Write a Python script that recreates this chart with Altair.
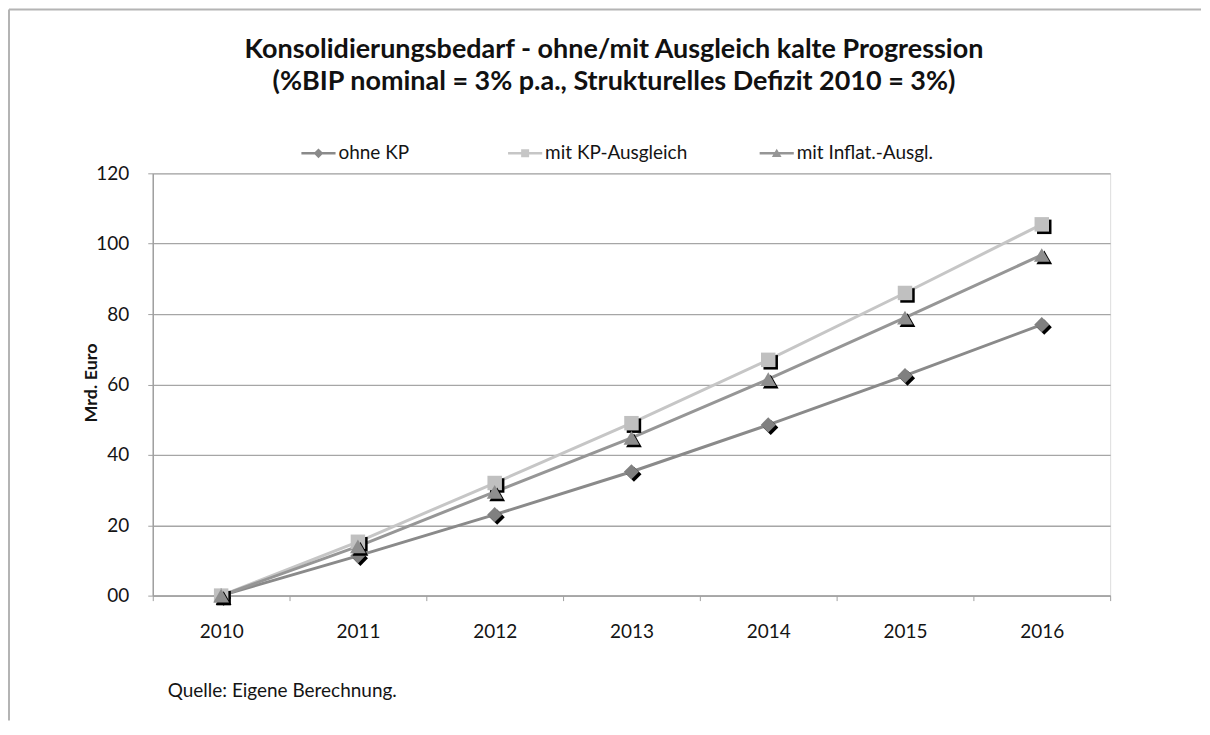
import altair as alt
import pandas as pd

years = ["2010", "2011", "2012", "2013", "2014", "2015", "2016"]
series_names = ["ohne KP", "mit KP-Ausgleich", "mit Inflat.-Ausgl."]
ohne_kp = [0, 11.3, 23.0, 35.2, 48.5, 62.5, 77.0]
mit_kp = [0, 15.3, 32.0, 49.0, 67.0, 86.0, 105.5]
mit_inflat = [0, 14.0, 29.5, 44.8, 61.5, 79.0, 96.8]
y_ticks = [0, 20, 40, 60, 80, 100, 120]

title_lines = ["Konsolidierungsbedarf - ohne/mit Ausgleich kalte Progression",
               "(%BIP nominal  = 3% p.a., Strukturelles Defizit 2010 = 3%)"]
source_text = "Quelle: Eigene Berechnung."

rows = []
for name, vals in zip(series_names, [ohne_kp, mit_kp, mit_inflat]):
    for yr, v in zip(years, vals):
        rows.append({"Jahr": yr, "Wert": v, "Serie": name})
df = pd.DataFrame(rows)

W, H = 959, 423
FONT = "Lato"
TXT = "#141414"
line_colors = ["#8a8a8a", "#c6c6c6", "#969696"]
marker_colors = ["#808080", "#c0c0c0", "#8e8e8e"]
shapes = ["diamond", "square", "triangle-up"]
sizes = [230, 210, 250]
legend_paths = [
    "M-3,-0.22H3V0.22H-3Z M0,-0.85L0.85,0L0,0.85L-0.85,0Z",
    "M-3,-0.22H3V0.22H-3Z M-0.7,-0.7H0.7V0.7H-0.7Z",
    "M-3,-0.22H3V0.22H-3Z M0,-0.8L0.85,0.65H-0.85Z",
]
legend_sym_x = [166, 373, 625]
legend_lab_x = [186, 393, 645]
legend_y = -20

x_enc = alt.X("Jahr:O", sort=years,
              scale=alt.Scale(type="band", paddingInner=0, paddingOuter=0),
              axis=alt.Axis(title=None, tickBand="extent", labelAngle=0,
                            labelFont=FONT, labelFontSize=19, labelColor=TXT,
                            labelPadding=22, tickSize=5, tickColor="#a0a0a0",
                            domainColor="#a0a0a0", domainWidth=1.5, grid=False))
y_enc = alt.Y("Wert:Q", scale=alt.Scale(domain=[0, 120], nice=False),
              axis=alt.Axis(title="Mrd. Euro", values=y_ticks,
                            labelExpr="datum.value == 0 ? '00' : datum.label",
                            labelFont=FONT, labelFontSize=19, labelColor=TXT,
                            labelPadding=19, tickSize=5, tickColor="#a0a0a0",
                            domainColor="#a0a0a0", domainWidth=1.5,
                            grid=True, gridColor="#a6a6a6", gridWidth=1.3,
                            titleFont=FONT, titleFontSize=18, titleFontWeight="bold",
                            titleColor=TXT, titleX=-61, titleY=H / 2 - 2,
                            titleAlign="center", titleBaseline="middle", titleAngle=-90))

color_scale = alt.Scale(domain=series_names, range=line_colors)

base = alt.Chart(df)

lines = base.mark_line(strokeWidth=3).encode(
    x=x_enc, y=y_enc,
    color=alt.Color("Serie:N", scale=color_scale, legend=None),
    detail="Serie:N")

layers = [lines]
for name, shp, sz, mc in zip(series_names, shapes, sizes, marker_colors):
    sub = base.transform_filter(alt.datum.Serie == name)
    layers.append(sub.mark_point(shape=shp, size=sz, filled=True, opacity=1,
                                 color="#000000", xOffset=2.5, yOffset=2.5)
                  .encode(x=x_enc, y=y_enc))
    layers.append(sub.mark_point(shape=shp, size=sz, filled=True, opacity=1,
                                 color=mc).encode(x=x_enc, y=y_enc))

dummy = alt.Chart(pd.DataFrame({"k": [0]}))

# legend (drawn as symbols + labels)
legend_layers = []
for name, path, lc, sx, lx in zip(series_names, legend_paths, line_colors,
                                  legend_sym_x, legend_lab_x):
    legend_layers.append(dummy.mark_point(shape=path, size=130, filled=True,
                                          opacity=1, color=lc).encode(
        x=alt.value(sx), y=alt.value(legend_y)))
    legend_layers.append(dummy.mark_text(font=FONT, fontSize=19, color=TXT,
                                         align="left", baseline="middle").encode(
        x=alt.value(lx), y=alt.value(legend_y), text=alt.value(name)))

frame_left = dummy.mark_rule(color="#b4b4b4", strokeWidth=2).encode(
    x=alt.value(-144), y=alt.value(-164), y2=alt.value(548))
frame_top = dummy.mark_rule(color="#b4b4b4", strokeWidth=2).encode(
    x=alt.value(-144), x2=alt.value(1050), y=alt.value(-164))
title1 = dummy.mark_text(font=FONT, fontSize=27, fontWeight="bold", color="#111111",
                         align="center", baseline="middle").encode(
    x=alt.value(462), y=alt.value(-124), text=alt.value(title_lines[0]))
title2 = dummy.mark_text(font=FONT, fontSize=27, fontWeight="bold", color="#111111",
                         align="center", baseline="middle").encode(
    x=alt.value(462), y=alt.value(-91), text=alt.value(title_lines[1]))
source = dummy.mark_text(font=FONT, fontSize=19, color=TXT,
                         align="left", baseline="middle").encode(
    x=alt.value(15), y=alt.value(519), text=alt.value(source_text))

chart = alt.layer(frame_left, frame_top, *layers, *legend_layers,
                  title1, title2, source).properties(
    width=W, height=H, padding=0
).configure_view(stroke=None).configure(background="white")

chart.save("out.html", embed_options={"renderer": "svg", "actions": False})
